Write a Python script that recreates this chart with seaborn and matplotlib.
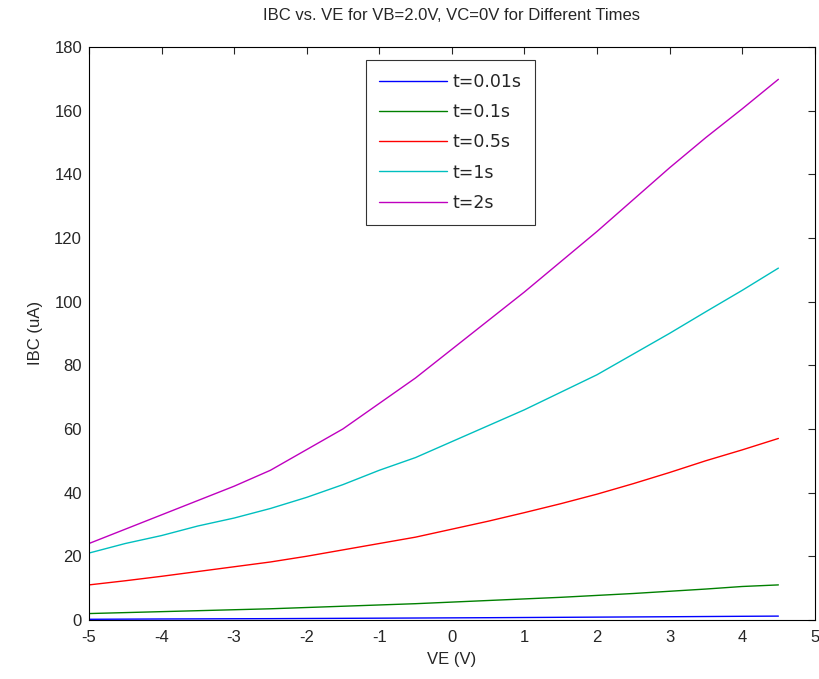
import numpy as np
import pandas as pd
import matplotlib
matplotlib.use("Agg")
import matplotlib.pyplot as plt
import seaborn as sns

ve = [-5, -4.5, -4, -3.5, -3, -2.5, -2, -1.5, -1, -0.5, 0, 0.5, 1, 1.5, 2, 2.5, 3, 3.5, 4, 4.5]
t001 = [0.2, 0.25, 0.3, 0.33, 0.37, 0.4, 0.45, 0.5, 0.55, 0.6, 0.65, 0.7, 0.76, 0.82, 0.88, 0.94, 1.0, 1.07, 1.14, 1.2]
t01 = [2.0, 2.3, 2.6, 2.9, 3.2, 3.5, 3.9, 4.3, 4.7, 5.1, 5.6, 6.1, 6.6, 7.1, 7.7, 8.3, 9.0, 9.7, 10.5, 11.0]
t05 = [11, 12.3, 13.7, 15.2, 16.7, 18.2, 20, 22, 24, 26, 28.5, 31, 33.7, 36.5, 39.5, 42.8, 46.3, 50, 53.4, 57.0]
t1 = [21, 24, 26.5, 29.5, 32, 35, 38.5, 42.5, 47, 51, 56, 61, 66, 71.5, 77, 83.5, 90, 96.8, 103.5, 110.5]
t2 = [24, 28.5, 33, 37.5, 42, 47, 53.5, 60, 68, 76, 85, 94, 103, 112.5, 122, 132, 142, 151.5, 160.5, 169.8]
labels = ["t=0.01s", "t=0.1s", "t=0.5s", "t=1s", "t=2s"]
xticks = [-5, -4, -3, -2, -1, 0, 1, 2, 3, 4, 5]
yticks = [0, 20, 40, 60, 80, 100, 120, 140, 160, 180]

frames = []
for lab, vals in zip(labels, [t001, t01, t05, t1, t2]):
    frames.append(pd.DataFrame({"VE": ve, "IBC": vals, "t": lab}))
df = pd.concat(frames, ignore_index=True)

sns.set_style("white")
plt.rcParams['font.family'] = ['Liberation Sans', 'DejaVu Sans']

colors = [(0, 0, 1), (0, 0.5, 0), (1, 0, 0), (0, 0.75, 0.75), (0.75, 0, 0.75)]

fig = plt.figure(figsize=(8.2, 6.79), dpi=100)
ax = fig.add_axes([0.1085, 0.087, 0.885, 0.844])
sns.lineplot(data=df, x="VE", y="IBC", hue="t", palette=colors, ax=ax, linewidth=1.0, legend=True)

ax.set_xlim(-5, 5)
ax.set_ylim(0, 180)
ax.set_xticks(xticks)
ax.set_yticks(yticks)
ax.set_xticklabels([str(v) for v in xticks], fontsize=12)
ax.set_yticklabels([str(v) for v in yticks], fontsize=12)
ax.tick_params(direction="in", length=5, top=True, right=True, width=0.8)
ax.tick_params(axis="x", pad=7)
ax.tick_params(axis="y", pad=5)
for s in ax.spines.values():
    s.set_linewidth(0.8)
    s.set_color("black")
ax.set_xlabel("VE (V)", fontsize=12, labelpad=5)
ax.set_ylabel("IBC (uA)", fontsize=12, labelpad=8)
ax.set_title("IBC vs. VE for VB=2.0V, VC=0V for Different Times", fontsize=12, pad=19)

handles, _ = ax.get_legend_handles_labels()
leg = ax.legend(handles, labels, loc="upper left", bbox_to_anchor=(0.3815, 0.977),
                borderaxespad=0, frameon=True, fancybox=False, edgecolor="black",
                prop={"family": "DejaVu Sans", "size": 12.5},
                handlelength=3.9, borderpad=0.75, labelspacing=0.7, handletextpad=0.35)
leg.get_frame().set_linewidth(0.8)

fig.savefig("out.png", dpi=100)
